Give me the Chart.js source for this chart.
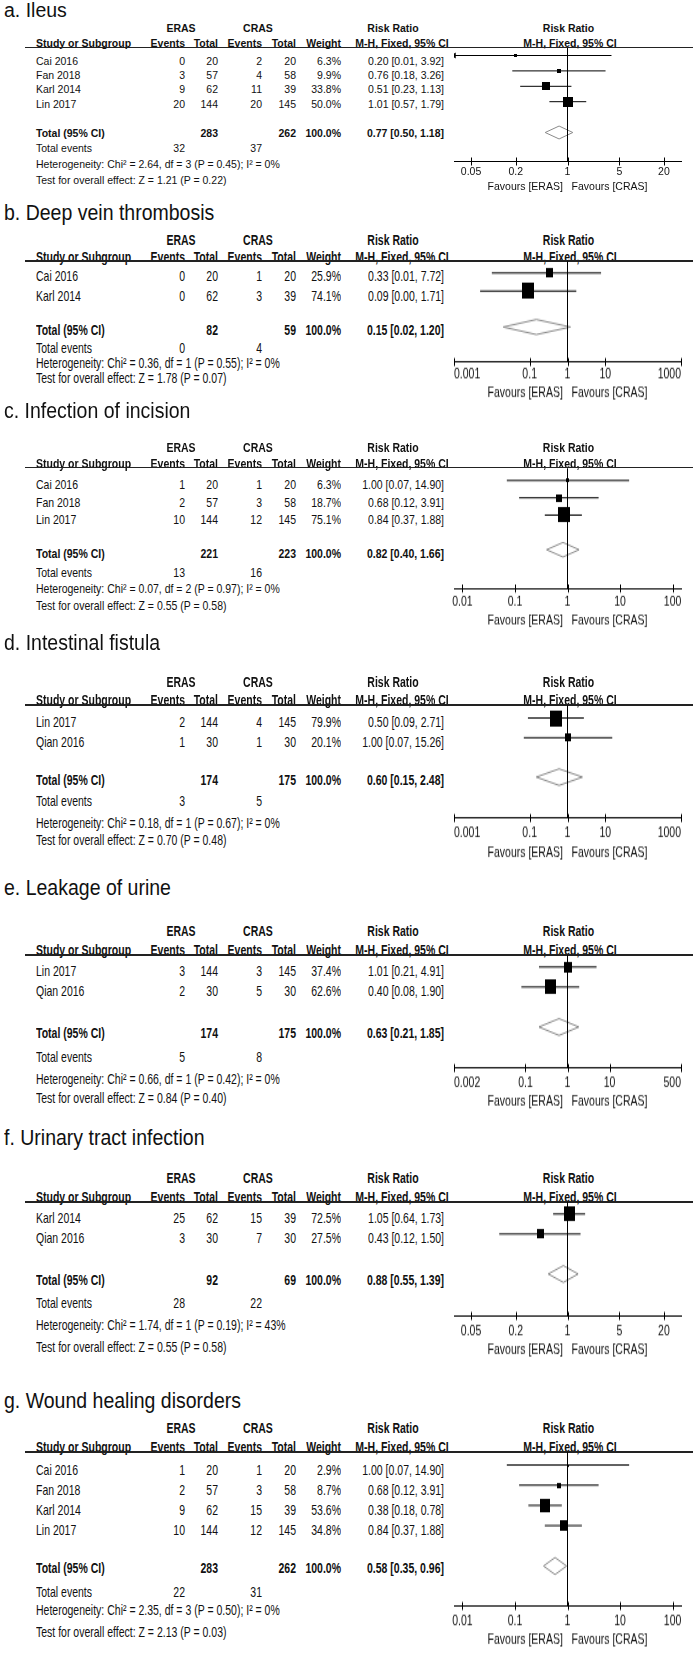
<!DOCTYPE html>
<html>
<head>
<meta charset="utf-8">
<script src="https://cdn.jsdelivr.net/npm/chart.js@4.4.1/dist/chart.umd.min.js"></script>
<style>
  body { margin: 0; background: #fff; }
  #fig { position: relative; width: 693px; height: 1653px; overflow: hidden; background: #fff; }
  .t { position: absolute; white-space: nowrap; font: 10.5px/12px "Liberation Sans", Arial, sans-serif; color: #111; }
  .b { font-weight: bold; }
  .ttl { position: absolute; left: 4px; white-space: nowrap; font: 19.5px/22px "Liberation Sans", Arial, sans-serif; color: #111; }
  .rule { position: absolute; left: 25px; width: 668px; height: 1.5px; background: #222; }
  canvas { position: absolute; left: 0; transform-origin: 0 0; }
</style>
</head>
<body>
<div id="fig"></div>
<script>
// a. Ileus
const ileusStudy = ['Cai 2016', 'Fan 2018', 'Karl 2014', 'Lin 2017'];
const ileusEras = [[0, 20], [3, 57], [9, 62], [20, 144]];
const ileusCras = [[2, 20], [4, 58], [11, 39], [20, 145]];
const ileusWeight = [6.3, 9.9, 33.8, 50.0];
const ileusRR = [[0.20, 0.01, 3.92], [0.76, 0.18, 3.26], [0.51, 0.23, 1.13], [1.01, 0.57, 1.79]];
const ileusN = [283, 262];
const ileusEvents = [32, 37];
const ileusPooled = [0.77, 0.50, 1.18];
const ileusHet = [2.64, 3, 0.45, 0];
const ileusTest = [1.21, 0.22];
const ileusTicks = [0.05, 0.2, 1, 5, 20];

// b. Deep vein thrombosis
const dvtStudy = ['Cai 2016', 'Karl 2014'];
const dvtEras = [[0, 20], [0, 62]];
const dvtCras = [[1, 20], [3, 39]];
const dvtWeight = [25.9, 74.1];
const dvtRR = [[0.33, 0.01, 7.72], [0.09, 0.0049, 1.71]];
const dvtN = [82, 59];
const dvtEvents = [0, 4];
const dvtPooled = [0.15, 0.02, 1.20];
const dvtHet = [0.36, 1, 0.55, 0];
const dvtTest = [1.78, 0.07];
const dvtTicks = [0.001, 0.1, 1, 10, 1000];

// c. Infection of incision
const incStudy = ['Cai 2016', 'Fan 2018', 'Lin 2017'];
const incEras = [[1, 20], [2, 57], [10, 144]];
const incCras = [[1, 20], [3, 58], [12, 145]];
const incWeight = [6.3, 18.7, 75.1];
const incRR = [[1.00, 0.07, 14.90], [0.68, 0.12, 3.91], [0.84, 0.37, 1.88]];
const incN = [221, 223];
const incEvents = [13, 16];
const incPooled = [0.82, 0.40, 1.66];
const incHet = [0.07, 2, 0.97, 0];
const incTest = [0.55, 0.58];
const incTicks = [0.01, 0.1, 1, 10, 100];

// d. Intestinal fistula
const fisStudy = ['Lin 2017', 'Qian 2016'];
const fisEras = [[2, 144], [1, 30]];
const fisCras = [[4, 145], [1, 30]];
const fisWeight = [79.9, 20.1];
const fisRR = [[0.50, 0.09, 2.71], [1.00, 0.07, 15.26]];
const fisN = [174, 175];
const fisEvents = [3, 5];
const fisPooled = [0.60, 0.15, 2.48];
const fisHet = [0.18, 1, 0.67, 0];
const fisTest = [0.70, 0.48];
const fisTicks = [0.001, 0.1, 1, 10, 1000];

// e. Leakage of urine
const leakStudy = ['Lin 2017', 'Qian 2016'];
const leakEras = [[3, 144], [2, 30]];
const leakCras = [[3, 145], [5, 30]];
const leakWeight = [37.4, 62.6];
const leakRR = [[1.01, 0.21, 4.91], [0.40, 0.08, 1.90]];
const leakN = [174, 175];
const leakEvents = [5, 8];
const leakPooled = [0.63, 0.21, 1.85];
const leakHet = [0.66, 1, 0.42, 0];
const leakTest = [0.84, 0.40];
const leakTicks = [0.002, 0.1, 1, 10, 500];

// f. Urinary tract infection
const utiStudy = ['Karl 2014', 'Qian 2016'];
const utiEras = [[25, 62], [3, 30]];
const utiCras = [[15, 39], [7, 30]];
const utiWeight = [72.5, 27.5];
const utiRR = [[1.05, 0.64, 1.73], [0.43, 0.12, 1.50]];
const utiN = [92, 69];
const utiEvents = [28, 22];
const utiPooled = [0.88, 0.55, 1.39];
const utiHet = [1.74, 1, 0.19, 43];
const utiTest = [0.55, 0.58];
const utiTicks = [0.05, 0.2, 1, 5, 20];

// g. Wound healing disorders
const woundStudy = ['Cai 2016', 'Fan 2018', 'Karl 2014', 'Lin 2017'];
const woundEras = [[1, 20], [2, 57], [9, 62], [10, 144]];
const woundCras = [[1, 20], [3, 58], [15, 39], [12, 145]];
const woundWeight = [2.9, 8.7, 53.6, 34.8];
const woundRR = [[1.00, 0.07, 14.90], [0.68, 0.12, 3.91], [0.38, 0.18, 0.78], [0.84, 0.37, 1.88]];
const woundN = [283, 262];
const woundEvents = [22, 31];
const woundPooled = [0.58, 0.35, 0.96];
const woundHet = [2.35, 3, 0.50, 0];
const woundTest = [2.13, 0.03];
const woundTicks = [0.01, 0.1, 1, 10, 100];

const panels = [
    { title: 'a. Ileus', study: ileusStudy, eras: ileusEras, cras: ileusCras, weight: ileusWeight, rr: ileusRR, n: ileusN, events: ileusEvents, pooled: ileusPooled, het: ileusHet, test: ileusTest, ticks: ileusTicks },
    { title: 'b. Deep vein thrombosis', study: dvtStudy, eras: dvtEras, cras: dvtCras, weight: dvtWeight, rr: dvtRR, n: dvtN, events: dvtEvents, pooled: dvtPooled, het: dvtHet, test: dvtTest, ticks: dvtTicks },
    { title: 'c. Infection of incision', study: incStudy, eras: incEras, cras: incCras, weight: incWeight, rr: incRR, n: incN, events: incEvents, pooled: incPooled, het: incHet, test: incTest, ticks: incTicks },
    { title: 'd. Intestinal fistula', study: fisStudy, eras: fisEras, cras: fisCras, weight: fisWeight, rr: fisRR, n: fisN, events: fisEvents, pooled: fisPooled, het: fisHet, test: fisTest, ticks: fisTicks },
    { title: 'e. Leakage of urine', study: leakStudy, eras: leakEras, cras: leakCras, weight: leakWeight, rr: leakRR, n: leakN, events: leakEvents, pooled: leakPooled, het: leakHet, test: leakTest, ticks: leakTicks },
    { title: 'f. Urinary tract infection', study: utiStudy, eras: utiEras, cras: utiCras, weight: utiWeight, rr: utiRR, n: utiN, events: utiEvents, pooled: utiPooled, het: utiHet, test: utiTest, ticks: utiTicks },
    { title: 'g. Wound healing disorders', study: woundStudy, eras: woundEras, cras: woundCras, weight: woundWeight, rr: woundRR, n: woundN, events: woundEvents, pooled: woundPooled, het: woundHet, test: woundTest, ticks: woundTicks }
];

// page positions (px) for each panel
const layout = [
    { s: 1.0, ts: 1.0, title: 10, g: 28, head: 43, rule: 47.5, row0: 61, sp: 14.2, mk0: 55, msp: 15.4, total: 133, ev: 148, het: 164, test: 180, axis: 161, lbl: 172, fav: 186, span: 1.531, inner: false },
    { s: 1.33, ts: 1.15, title: 212, g: 240, head: 257, rule: 261, row0: 276, sp: 20, mk0: 273, msp: 18, total: 330, ev: 348, het: 363, test: 378, axis: 362, lbl: 375, fav: 392, span: 3, inner: true },
    { s: 1.25, ts: 1.15, title: 410, g: 447, head: 463, rule: 467.5, row0: 484, sp: 17.5, mk0: 480, msp: 17.3, total: 553, ev: 572, het: 588, test: 605, axis: 588, lbl: 602, fav: 619, span: 2.16, inner: false },
    { s: 1.33, ts: 1.15, title: 642, g: 682, head: 700, rule: 705, row0: 722, sp: 20, mk0: 718, msp: 19.7, total: 780, ev: 801, het: 823, test: 840, axis: 818, lbl: 833, fav: 852, span: 3, inner: true },
    { s: 1.33, ts: 1.15, title: 887, g: 931, head: 950, rule: 955, row0: 971, sp: 20, mk0: 967, msp: 20, total: 1033, ev: 1057, het: 1079, test: 1098, axis: 1068, lbl: 1083, fav: 1101, span: 2.699, inner: true },
    { s: 1.33, ts: 1.15, title: 1137, g: 1178, head: 1197, rule: 1202, row0: 1218, sp: 20, mk0: 1214, msp: 20, total: 1280, ev: 1303, het: 1325, test: 1347, axis: 1316, lbl: 1331, fav: 1349, span: 1.531, inner: false },
    { s: 1.33, ts: 1.15, title: 1400, g: 1428, head: 1447, rule: 1452, row0: 1470, sp: 20, mk0: 1465, msp: 20.2, total: 1568, ev: 1592, het: 1610, test: 1632, axis: 1606, lbl: 1622, fav: 1639, span: 2.16, inner: false }
];

const W = 693;
const FONT = '"Liberation Sans", Arial, sans-serif';
const fig = document.getElementById('fig');

function put(str, x, y, align, bold, sy) {
    const d = document.createElement('div');
    d.className = bold ? 't b' : 't';
    d.textContent = str;
    if (align === 'right') d.style.right = (W - x) + 'px';
    else d.style.left = x + 'px';
    d.style.top = (y - 6) + 'px';
    d.style.transform = (align === 'center' ? 'translateX(-50%) ' : '') + 'scaleY(' + sy + ')';
    fig.appendChild(d);
}

const rr = v => `${v[0].toFixed(2)} [${v[1].toFixed(2)}, ${v[2].toFixed(2)}]`;

function box(w, h) {
    const c = document.createElement('canvas');
    c.width = Math.max(2, Math.round(w));
    c.height = Math.max(2, Math.round(h));
    const g = c.getContext('2d');
    g.fillStyle = '#000';
    g.fillRect(0, 0, c.width, c.height);
    return c;
}

// tick marks that cross the axis line
const crossTicks = {
    id: 'crossTicks',
    afterDraw(chart, args, opts) {
        const sc = chart.scales.x, ctx = chart.ctx, y0 = chart.chartArea.bottom;
        ctx.save();
        ctx.strokeStyle = '#000';
        ctx.lineWidth = 1;
        sc.ticks.forEach(t => {
            const px = Math.round(sc.getPixelForValue(t.value)) + 0.5;
            ctx.beginPath();
            ctx.moveTo(px, y0 - opts.len);
            ctx.lineTo(px, y0 + opts.len);
            ctx.stroke();
        });
        ctx.restore();
    }
};

panels.forEach((p, k) => {
    const L = layout[k];
    const s = L.s;

    const t = document.createElement('div');
    t.className = 'ttl';
    t.textContent = p.title;
    t.style.top = (L.title - 11) + 'px';
    t.style.transform = 'scaleY(' + L.ts + ')';
    fig.appendChild(t);

    put('ERAS', 181, L.g, 'center', true, s);
    put('CRAS', 258, L.g, 'center', true, s);
    put('Risk Ratio', 393, L.g, 'center', true, s);
    put('Risk Ratio', 568.5, L.g, 'center', true, s);
    put('Study or Subgroup', 36, L.head, 'left', true, s);
    put('Events', 185, L.head, 'right', true, s);
    put('Total', 218, L.head, 'right', true, s);
    put('Events', 262, L.head, 'right', true, s);
    put('Total', 296, L.head, 'right', true, s);
    put('Weight', 341, L.head, 'right', true, s);
    put('M-H, Fixed, 95% CI', 402, L.head, 'center', true, s);
    put('M-H, Fixed, 95% CI', 570, L.head, 'center', true, s);

    const r = document.createElement('div');
    r.className = 'rule';
    r.style.top = (L.rule - 0.75) + 'px';
    fig.appendChild(r);

    p.study.forEach((name, i) => {
        const y = L.row0 + L.sp * i;
        put(name, 36, y, 'left', false, s);
        put(String(p.eras[i][0]), 185, y, 'right', false, s);
        put(String(p.eras[i][1]), 218, y, 'right', false, s);
        put(String(p.cras[i][0]), 262, y, 'right', false, s);
        put(String(p.cras[i][1]), 296, y, 'right', false, s);
        put(p.weight[i].toFixed(1) + '%', 341, y, 'right', false, s);
        put(rr(p.rr[i]), 444, y, 'right', false, s);
    });

    put('Total (95% CI)', 36, L.total, 'left', true, s);
    put(String(p.n[0]), 218, L.total, 'right', true, s);
    put(String(p.n[1]), 296, L.total, 'right', true, s);
    put('100.0%', 341, L.total, 'right', true, s);
    put(rr(p.pooled), 444, L.total, 'right', true, s);
    put('Total events', 36, L.ev, 'left', false, s);
    put(String(p.events[0]), 185, L.ev, 'right', false, s);
    put(String(p.events[1]), 262, L.ev, 'right', false, s);
    const h = p.het;
    put(`Heterogeneity: Chi\u00b2 = ${h[0].toFixed(2)}, df = ${h[1]} (P = ${h[2].toFixed(2)}); I\u00b2 = ${h[3]}%`, 36, L.het, 'left', false, s);
    put(`Test for overall effect: Z = ${p.test[0].toFixed(2)} (P = ${p.test[1].toFixed(2)})`, 36, L.test, 'left', false, s);

    // forest plot
    const top = L.rule - 1;
    const loc = Y => (Y - top) / s;
    const Hc = Math.ceil(loc(L.fav) + 6.3 + 2);
    const xh = Hc - loc(L.axis);
    const cv = document.createElement('canvas');
    cv.width = W;
    cv.height = Hc;
    cv.style.width = W + 'px';
    cv.style.height = Hc + 'px';
    cv.style.top = top + 'px';
    cv.style.transform = 'scaleY(' + s + ')';
    fig.appendChild(cv);

    const yMin = -(L.mk0 - L.rule) / L.msp;
    const yMax = yMin + (L.axis - L.rule) / L.msp;
    const xMin = Math.pow(10, -L.span), xMax = Math.pow(10, L.span);
    const n = p.study.length;
    const q = p.pooled, yt = n + 1, dh = 0.42;

    const datasets = [];
    datasets.push({ data: [{ x: 1, y: yMin }, { x: 1, y: yMax }], showLine: true, borderColor: '#000', borderWidth: 1, pointRadius: 0 });
    p.rr.forEach((v, i) => {
        datasets.push({ data: [{ x: v[1], y: i }, { x: v[2], y: i }], showLine: true, borderColor: '#000', borderWidth: 1, pointRadius: 0 });
    });
    datasets.push({
        data: p.rr.map((v, i) => ({ x: v[0], y: i })),
        showLine: false, pointRadius: 3, pointBorderWidth: 0,
        pointStyle: p.weight.map(w => { const a = 13.5 * Math.sqrt(w / 100); return box(a, a); })
    });
    const clipped = p.rr.map((v, i) => v[1] < xMin ? { x: xMin, y: i } : null).filter(Boolean);
    if (clipped.length) {
        datasets.push({ data: clipped, showLine: false, pointStyle: 'triangle', rotation: 270, pointRadius: 3.5, backgroundColor: '#000', borderColor: '#000', pointBorderWidth: 0 });
    }
    datasets.push({
        data: [{ x: q[1], y: yt }, { x: q[0], y: yt - dh }, { x: q[2], y: yt }, { x: q[0], y: yt + dh }, { x: q[1], y: yt }],
        showLine: true, borderColor: '#8a8a8a', borderWidth: 1, pointRadius: 0, fill: false, tension: 0
    });

    new Chart(cv, {
        type: 'scatter',
        data: { datasets },
        plugins: [crossTicks],
        options: {
            responsive: false,
            animation: false,
            devicePixelRatio: 1,
            events: [],
            layout: { autoPadding: false, padding: { left: 454, right: W - 681, top: loc(L.rule), bottom: 0 } },
            plugins: { legend: { display: false }, tooltip: { enabled: false }, crossTicks: { len: 4 / s } },
            scales: {
                x: {
                    type: 'logarithmic', min: xMin, max: xMax,
                    afterBuildTicks: sc => { sc.ticks = p.ticks.map(v => ({ value: v })); },
                    afterFit: sc => { sc.height = xh; },
                    grid: { display: false, drawTicks: false },
                    border: { display: true, color: '#000', width: 1 },
                    ticks: {
                        callback: v => String(v), autoSkip: false, maxRotation: 0,
                        align: L.inner ? 'inner' : 'center',
                        padding: loc(L.lbl) - loc(L.axis) - 6.3,
                        color: '#111', font: { family: FONT, size: 10.5 }
                    },
                    title: {
                        display: true, text: 'Favours [ERAS]   Favours [CRAS]',
                        color: '#111', font: { family: FONT, size: 10.5 }, padding: { top: 0, bottom: 2 }
                    }
                },
                y: { type: 'linear', display: false, reverse: true, min: yMin, max: yMax }
            }
        }
    });
});
</script>
</body>
</html>
